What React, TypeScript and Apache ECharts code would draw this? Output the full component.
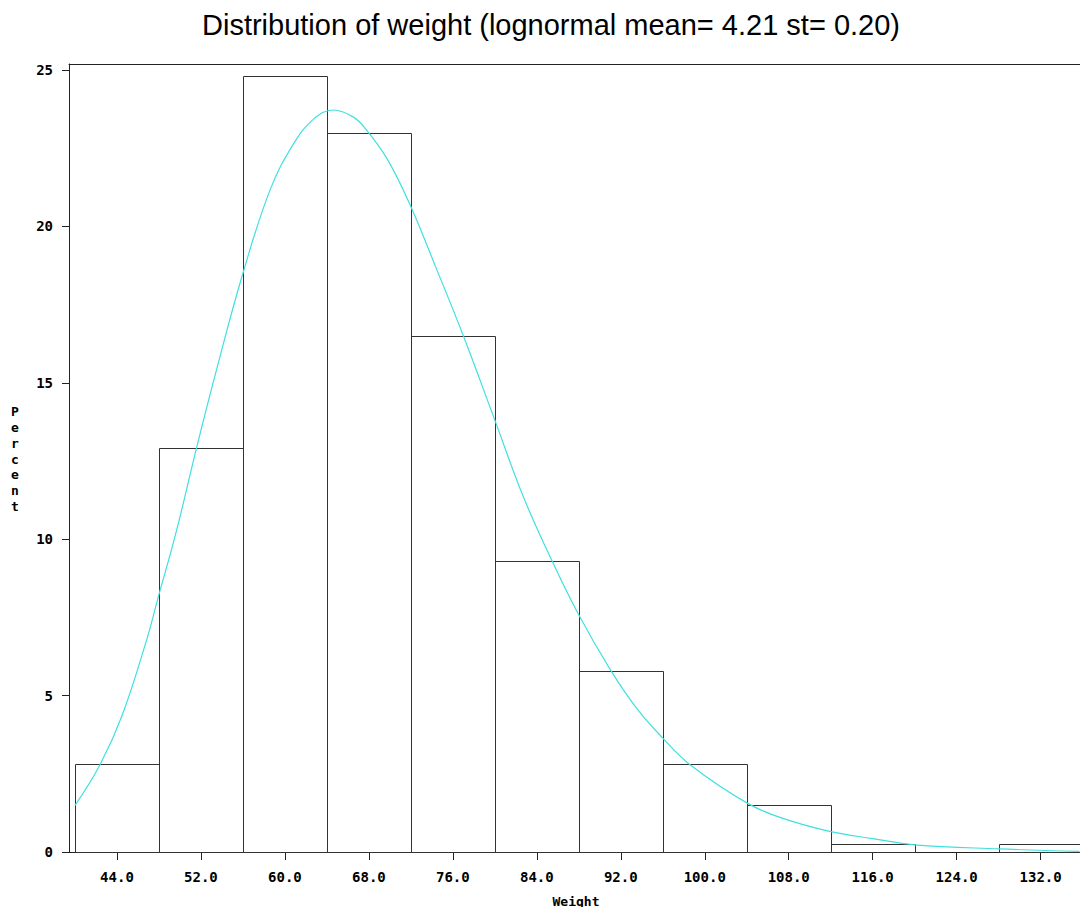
import React, { useEffect, useRef } from "react";
import * as echarts from "echarts";

const binCenters = [44, 52, 60, 68, 76, 84, 92, 100, 108, 116, 124, 132];
const percent = [2.8, 12.9, 24.8, 23.0, 16.5, 9.3, 5.8, 2.8, 1.5, 0.25, 0, 0.25];
const binWidth = 8;

const curveX = [40, 42.4, 44.45, 46.8, 47.87, 49.68, 51.59, 53.49, 55.93, 58.57, 60.79, 62.7, 64.6, 66.5, 67.78, 69.7, 71.9, 74.44, 76.98, 79.93, 82.7, 85.4, 87.9, 91.0, 93.5, 96.0, 98.6, 104.0, 107.3, 111.9, 116.0, 120.0, 128.0, 135.7];
const curveY = [1.49, 2.8, 4.33, 6.75, 8.07, 10.28, 12.93, 15.42, 18.42, 21.15, 22.62, 23.42, 23.72, 23.5, 23.08, 22.18, 20.71, 18.64, 16.52, 13.87, 11.37, 9.34, 7.64, 5.83, 4.6, 3.64, 2.79, 1.57, 1.09, 0.66, 0.43, 0.23, 0.1, 0.02];

const yTicks = [0, 5, 10, 15, 20, 25];

const TITLE = "Distribution of weight (lognormal mean= 4.21 st= 0.20)";
const MONO = "'DejaVu Sans Mono', monospace";

export default function App() {
  const ref = useRef<HTMLDivElement>(null);
  useEffect(() => {
    const chart = echarts.init(ref.current!, null, { renderer: "svg" });
    const xMin = 39.43;
    const xMax = 135.75;
    chart.setOption({
      animation: false,
      backgroundColor: "#ffffff",
      grid: { left: 69, top: 64, right: 0, bottom: 55 },
      xAxis: [
        {
          type: "value",
          min: xMin,
          max: xMax,
          position: "bottom",
          axisLine: { show: true, lineStyle: { color: "#222", width: 1 } },
          axisTick: { show: true, length: 8, customValues: binCenters, lineStyle: { color: "#222" } },
          axisLabel: {
            show: true,
            customValues: binCenters,
            formatter: (v: number) => v.toFixed(1),
            margin: 18,
            fontFamily: MONO,
            fontWeight: "bold",
            fontSize: 14,
            color: "#000",
          },
          splitLine: { show: false },
        },
        {
          type: "value",
          min: xMin,
          max: xMax,
          position: "top",
          axisLine: { show: true, lineStyle: { color: "#222", width: 1 } },
          axisTick: { show: false },
          axisLabel: { show: false },
          splitLine: { show: false },
        },
      ],
      yAxis: {
        type: "value",
        min: 0,
        max: 25.19,
        axisLine: { show: true, lineStyle: { color: "#222", width: 1 } },
        axisTick: { show: true, length: 7, customValues: yTicks, lineStyle: { color: "#222" } },
        axisLabel: {
          show: true,
          customValues: yTicks,
          margin: 16,
          fontFamily: MONO,
          fontWeight: "bold",
          fontSize: 14,
          color: "#000",
        },
        splitLine: { show: false },
      },
      graphic: [
        {
          type: "text",
          x: 551,
          y: 25,
          style: {
            text: TITLE,
            fontFamily: "'Liberation Sans', Arial, sans-serif",
            fontSize: 29,
            fill: "#000",
            textAlign: "center",
            textVerticalAlign: "middle",
          },
        },
        {
          type: "text",
          x: 15,
          y: 459,
          style: {
            text: "P\ne\nr\nc\ne\nn\nt",
            fontFamily: MONO,
            fontWeight: "bold",
            fontSize: 13,
            lineHeight: 15.8,
            fill: "#000",
            textAlign: "center",
            textVerticalAlign: "middle",
          },
        },
        {
          type: "text",
          x: 576,
          y: 901,
          style: {
            text: "Weight",
            fontFamily: MONO,
            fontWeight: "bold",
            fontSize: 13,
            fill: "#000",
            textAlign: "center",
            textVerticalAlign: "middle",
          },
        },
      ],
      series: [
        {
          type: "custom",
          xAxisIndex: 0,
          data: binCenters.map((c, i) => [c, percent[i]]),
          renderItem: (params: any, api: any) => {
            const c = api.value(0);
            const v = api.value(1);
            if (!v) return null;
            const p0 = api.coord([c - binWidth / 2, v]);
            const p1 = api.coord([c + binWidth / 2, 0]);
            const x0 = Math.round(p0[0]) + 0.5;
            const y0 = Math.round(p0[1]) + 0.5;
            const x1 = Math.round(p1[0]) + 0.5;
            const y1 = Math.round(p1[1]) + 0.5;
            return {
              type: "rect",
              shape: { x: x0, y: y0, width: x1 - x0, height: y1 - y0 },
              style: { fill: "none", stroke: "#333", lineWidth: 1 },
            };
          },
          z: 2,
        },
        {
          type: "line",
          xAxisIndex: 0,
          data: curveX.map((x, i) => [x, curveY[i]]),
          smooth: 0.4,
          showSymbol: false,
          symbol: "none",
          lineStyle: { color: "#3fe0e0", width: 1.2 },
          z: 3,
        },
      ],
    });
    return () => chart.dispose();
  }, []);
  return (
    <div
      ref={ref}
      style={{ position: "absolute", left: 0, top: 0, width: 1080, height: 907 }}
    />
  );
}
